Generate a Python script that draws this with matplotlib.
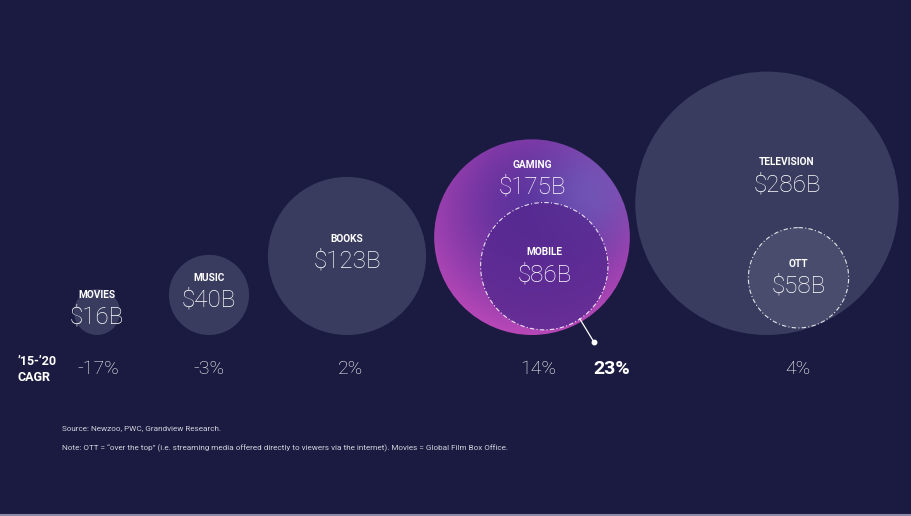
import numpy as np
import matplotlib.pyplot as plt
from matplotlib.patches import Circle

# Datos
categories = ['MOVIES', 'MUSIC', 'BOOKS', 'GAMING', 'TELEVISION']
revenue = [16, 40, 123, 175, 286]          # $B
cagr = [-17, -3, 2, 14, 4]                  # '15-'20 CAGR, %

sub_parent = ['GAMING', 'TELEVISION']
sub_names = ['MOBILE', 'OTT']
sub_revenue = [86, 58]
mobile_cagr = 23

source_text = "Source: Newzoo, PWC, Grandview Research."
note_text = ("Note: OTT = \u201cover the top\u201d (i.e. streaming media offered directly to viewers "
             "via the internet). Movies = Global Film Box Office.")

# Layout (pixel space)
W, H = 912, 516
x_pos = [97, 209, 347, 532, 767]
cagr_x = [98, 209, 351, 538, 798]
parent_label_y = {'GAMING': 165, 'TELEVISION': 162}
base_y = 335
bg = '#1b1b41'
grey = '#3a3c5f'
white = '#ffffff'
FONT = 'Roboto'


def radius(v):
    return 4.3 * v ** 0.605


fig = plt.figure(figsize=(W / 100, H / 100), dpi=100)
fig.patch.set_facecolor(bg)
ax = fig.add_axes([0, 0, 1, 1])
ax.set_xlim(0, W)
ax.set_ylim(H, 0)
ax.axis('off')
ax.set_facecolor(bg)

centers = {}
for name, v, x in zip(categories, revenue, x_pos):
    r = radius(v)
    cy = base_y - r
    centers[name] = (x, cy, r)
    if name == 'GAMING':
        # gradiente radial
        yy, xx = np.mgrid[cy - r:cy + r:300j, x - r:x + r:300j]
        d = np.hypot(xx - (x + 5), yy - (cy - 30)) / (r * 1.3)
        t = np.clip(d, 0, 1) ** 1.5
        c0 = np.array([0.34, 0.18, 0.60])
        c1 = np.array([0.72, 0.28, 0.72])
        img = c0 + (c1 - c0) * t[..., None]
        hl = np.exp(-(((xx - (x + 58)) ** 2 + (yy - (cy - 45)) ** 2) / (2 * 36 ** 2)))
        img = img + (np.array([0.44, 0.38, 0.74]) - img) * (0.7 * hl[..., None])
        im = ax.imshow(np.clip(img, 0, 1), extent=[x - r, x + r, cy + r, cy - r],
                       interpolation='bilinear', zorder=2)
        clip = Circle((x, cy), r, transform=ax.transData, facecolor='none', edgecolor='none')
        ax.add_patch(clip)
        im.set_clip_path(clip)
    else:
        ax.add_patch(Circle((x, cy), r, facecolor=grey, edgecolor='none', zorder=2))

# sub-circles
sub_centers = {}
ang = np.deg2rad(66)
for parent, name, v in zip(sub_parent, sub_names, sub_revenue):
    px, py, R = centers[parent]
    r = radius(v)
    d = (R - r) * (0.93 if parent == 'GAMING' else 1.0)
    sx, sy = px + d * np.cos(ang) * 0.95, py + d * np.sin(ang)
    sub_centers[name] = (sx, sy, r)
    fc = '#55288f' if name == 'MOBILE' else '#4a4c6e'
    ax.add_patch(Circle((sx, sy), r, facecolor=fc, alpha=0.8 if name == 'MOBILE' else 1,
                        edgecolor='none', zorder=3))
    ax.add_patch(Circle((sx, sy), r, facecolor='none', edgecolor=white, lw=0.8,
                        linestyle=(0, (4, 2, 1, 2)), alpha=0.85, zorder=4))


def label(x, y, name, v):
    ax.text(x, y, name, color=white, fontsize=7.3, fontweight='bold', family=FONT,
            ha='center', va='center', zorder=5)
    ax.text(x, y + 22.5, f'${v}B', color=white, fontsize=17.5, fontweight='light', family=FONT,
            ha='center', va='center', zorder=5)


sub_of = dict(zip(sub_parent, sub_names))
for name, v in zip(categories, revenue):
    x, cy, r = centers[name]
    if name in sub_of:
        sx, sy, sr = sub_centers[sub_of[name]]
        lx = x + 20 if name == 'TELEVISION' else x
        label(lx, parent_label_y[name], name, v)
    else:
        label(x, cy - 17, name, v)

for name, v in zip(sub_names, sub_revenue):
    sx, sy, sr = sub_centers[name]
    label(sx, sy - 14, name, v)

# CAGR row
row_y = 369.5
ax.text(18, row_y - 7.5, "\u201915-\u201920", color=white, fontsize=9, fontweight='bold',
        family=FONT, ha='left', va='center')
ax.text(18, row_y + 8, "CAGR", color=white, fontsize=9, fontweight='bold',
        family=FONT, ha='left', va='center')
for x, c in zip(cagr_x, cagr):
    ax.text(x, row_y, f'{c}%', color=white, fontsize=14, fontweight='light', family=FONT,
            ha='center', va='center')
ax.text(612, row_y, f'{mobile_cagr}%', color='white', fontsize=14, fontweight='bold',
        family=FONT, ha='center', va='center')

# pointer from mobile circle to 23%
mx, my, mr = sub_centers['MOBILE']
a = np.deg2rad(56)
p0 = (mx + mr * np.cos(a), my + mr * np.sin(a))
p1 = (p0[0] + 14, p0[1] + 23)
ax.plot([p0[0], p1[0]], [p0[1], p1[1]], color=white, lw=0.9, zorder=6)
ax.plot(p1[0], p1[1], 'o', color=white, ms=3.2, zorder=6)

# footer
ax.text(62, 428, source_text, color='#d0d0dc', fontsize=5.85, family=FONT, ha='left', va='center')
ax.text(62, 448, note_text, color='#d0d0dc', fontsize=5.85, family=FONT, ha='left', va='center')
ax.axhline(515, color='#8c8ca8', lw=1.5)

fig.savefig('out.png', dpi=100, facecolor=bg)
